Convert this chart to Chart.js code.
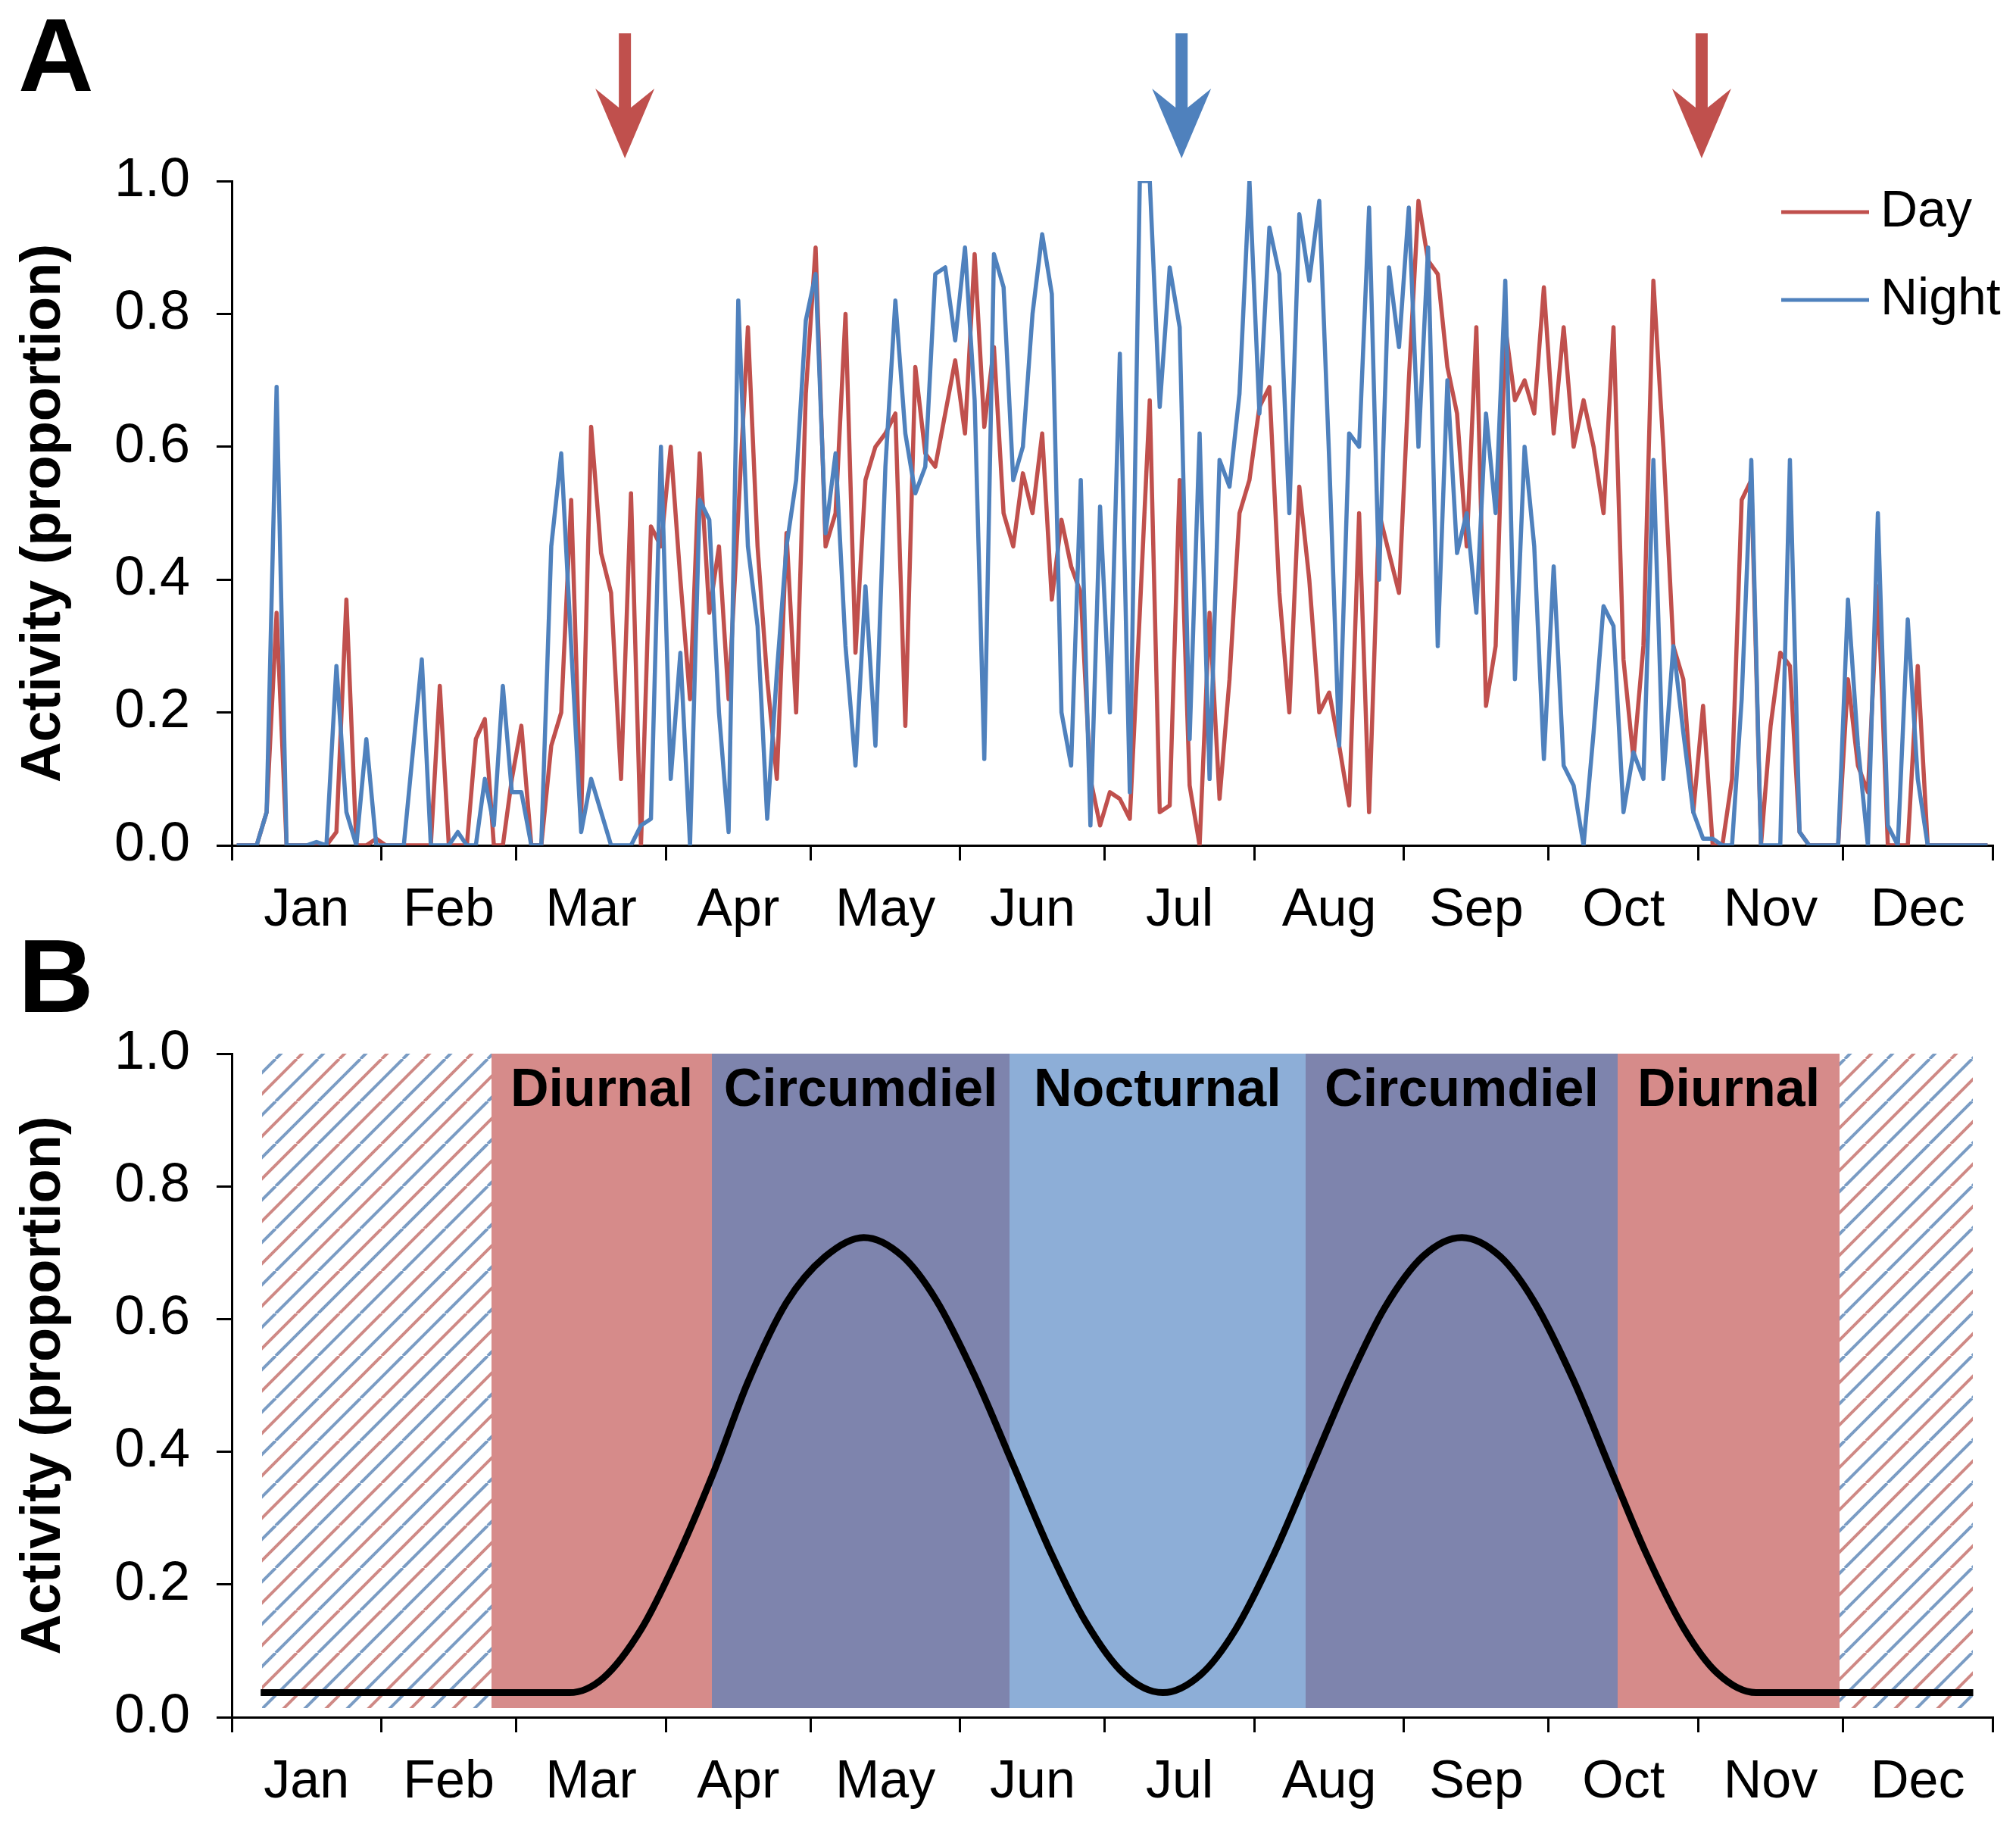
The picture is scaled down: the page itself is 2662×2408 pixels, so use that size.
<!DOCTYPE html>
<html>
<head>
<meta charset="utf-8">
<script src="https://cdn.jsdelivr.net/npm/chart.js"></script>
<style>
  html, body { margin: 0; padding: 0; background: #fff; }
  #page { position: relative; width: 2662px; height: 2408px; overflow: hidden; background: #fff; }
  #wrapA { position: absolute; left: 0; top: 0; width: 2662px; height: 1290px; }
  #wrapB { position: absolute; left: 0; top: 1230px; width: 2662px; height: 1178px; }
  .panel { position: absolute; left: 24px; font: bold 138px 'Liberation Sans', Arial, sans-serif; line-height: 1; color: #000; }
</style>
</head>
<body>
<div id="page">
  <div id="wrapA"><canvas id="chartA"></canvas></div>
  <div id="wrapB"><canvas id="chartB"></canvas></div>
  <div class="panel" style="top:3px">A</div>
  <div class="panel" style="top:1219px">B</div>
</div>
<script>
// axes
var monthNames = ['Jan', 'Feb', 'Mar', 'Apr', 'May', 'Jun', 'Jul', 'Aug', 'Sep', 'Oct', 'Nov', 'Dec'];
var monthStarts = [0, 31, 59, 90, 120, 151, 181, 212, 243, 273, 304, 334, 365];
var yTickValues = [0, 0.2, 0.4, 0.6, 0.8, 1.0];

// panel A: activity, 15 readings per month
var dayActivity = [
  /*Jan*/ 0, 0, 0, 0.05, 0.35, 0, 0, 0, 0, 0, 0.02, 0.37, 0, 0, 0.01,
  /*Feb*/ 0, 0, 0, 0, 0, 0, 0.24, 0, 0, 0, 0.16, 0.19, 0, 0, 0.1,
  /*Mar*/ 0.18, 0, 0, 0.15, 0.2, 0.52, 0.04, 0.63, 0.44, 0.38, 0.1, 0.53, 0, 0.48, 0.45,
  /*Apr*/ 0.6, 0.4, 0.22, 0.59, 0.35, 0.45, 0.22, 0.5, 0.78, 0.45, 0.25, 0.1, 0.47, 0.2, 0.68,
  /*May*/ 0.9, 0.45, 0.5, 0.8, 0.29, 0.55, 0.6, 0.62, 0.65, 0.18, 0.72, 0.59, 0.57, 0.65, 0.73,
  /*Jun*/ 0.62, 0.89, 0.63, 0.75, 0.5, 0.45, 0.56, 0.5, 0.62, 0.37, 0.49, 0.42, 0.38, 0.1, 0.03,
  /*Jul*/ 0.08, 0.07, 0.04, 0.35, 0.67, 0.05, 0.06, 0.55, 0.09, 0, 0.35, 0.07, 0.25, 0.5, 0.55,
  /*Aug*/ 0.66, 0.69, 0.38, 0.2, 0.54, 0.4, 0.2, 0.23, 0.15, 0.06, 0.5, 0.05, 0.5, 0.44, 0.38,
  /*Sep*/ 0.7, 0.97, 0.88, 0.86, 0.72, 0.65, 0.45, 0.78, 0.21, 0.3, 0.78, 0.67, 0.7, 0.65, 0.84,
  /*Oct*/ 0.62, 0.78, 0.6, 0.67, 0.6, 0.5, 0.78, 0.28, 0.13, 0.3, 0.85, 0.6, 0.3, 0.25, 0.05,
  /*Nov*/ 0.21, 0, 0, 0.1, 0.52, 0.55, 0, 0.18, 0.29, 0.27, 0.02, 0, 0, 0, 0,
  /*Dec*/ 0.25, 0.12, 0.08, 0.39, 0, 0, 0, 0.27, 0, 0, 0, 0, 0, 0, 0
];
var nightActivity = [
  /*Jan*/ 0, 0, 0, 0.05, 0.69, 0, 0, 0, 0.005, 0, 0.27, 0.05, 0, 0.16, 0,
  /*Feb*/ 0, 0, 0, 0.14, 0.28, 0, 0, 0, 0.02, 0, 0, 0.1, 0.03, 0.24, 0.08,
  /*Mar*/ 0.08, 0, 0, 0.45, 0.59, 0.3, 0.02, 0.1, 0.05, 0, 0, 0, 0.03, 0.04, 0.6,
  /*Apr*/ 0.1, 0.29, 0, 0.52, 0.49, 0.2, 0.02, 0.82, 0.45, 0.33, 0.04, 0.26, 0.45, 0.55, 0.79,
  /*May*/ 0.86, 0.47, 0.59, 0.3, 0.12, 0.39, 0.15, 0.57, 0.82, 0.62, 0.53, 0.57, 0.86, 0.87, 0.76,
  /*Jun*/ 0.9, 0.67, 0.13, 0.89, 0.84, 0.55, 0.6, 0.8, 0.92, 0.83, 0.2, 0.12, 0.55, 0.03, 0.51,
  /*Jul*/ 0.2, 0.74, 0.08, 1.0, 1.0, 0.66, 0.87, 0.78, 0.16, 0.62, 0.1, 0.58, 0.54, 0.68, 1.0,
  /*Aug*/ 0.65, 0.93, 0.86, 0.5, 0.95, 0.85, 0.97, 0.58, 0.15, 0.62, 0.6, 0.96, 0.4, 0.87, 0.75,
  /*Sep*/ 0.96, 0.6, 0.9, 0.3, 0.7, 0.44, 0.5, 0.35, 0.65, 0.5, 0.85, 0.25, 0.6, 0.45, 0.13,
  /*Oct*/ 0.42, 0.12, 0.09, 0, 0.17, 0.36, 0.33, 0.05, 0.14, 0.1, 0.58, 0.1, 0.3, 0.17, 0.05,
  /*Nov*/ 0.01, 0.01, 0, 0, 0.22, 0.58, 0, 0, 0, 0.58, 0.02, 0, 0, 0, 0,
  /*Dec*/ 0.37, 0.15, 0, 0.5, 0.03, 0, 0.34, 0.1, 0, 0, 0, 0, 0, 0, 0
];
var arrowDays = [81.5, 196.9, 304.7];
var arrowKinds = ['day', 'night', 'day'];

// panel B: model curve and activity periods
var curveDays = [6, 30, 55, 70, 77, 85, 92, 100, 107, 115, 123, 131, 139, 146, 154, 162, 170, 177, 185, 193,
  201, 208, 216, 224, 232, 239, 247, 255, 263, 270, 278, 286, 293, 301, 308, 316, 330, 345, 361];
var curveVals = [0.037, 0.037, 0.037, 0.037, 0.059, 0.134, 0.235, 0.371, 0.505, 0.625, 0.694, 0.723, 0.695, 0.629,
  0.515, 0.380, 0.245, 0.144, 0.065, 0.037, 0.065, 0.131, 0.245, 0.380, 0.515, 0.617, 0.695, 0.723, 0.694,
  0.626, 0.510, 0.371, 0.250, 0.134, 0.066, 0.037, 0.037, 0.037, 0.037];
var bandStart = [6.3, 53.8, 99.6, 161.2, 222.6, 287.3, 333.3];
var bandEnd = [53.8, 99.6, 161.2, 222.6, 287.3, 333.3, 360.9];
var bandKind = ['hatch', 'diurnal', 'circ', 'noct', 'circ', 'diurnal', 'hatch'];
var bandNames = ['', 'Diurnal', 'Circumdiel', 'Nocturnal', 'Circumdiel', 'Diurnal', ''];
var bandTop = 1.0, bandBottom = 0.014, bandLabelY = 0.943;

var RED = '#C0504D', BLUE = '#4F81BD';
var bandColors = { diurnal: '#D68B8A', circ: '#7E84AD', noct: '#8DAED7' };
var FONT = "'Liberation Sans', Arial, sans-serif";

Chart.defaults.font.family = FONT;
Chart.defaults.color = '#000';

var monthMids = monthNames.map(function (m, i) { return (monthStarts[i] + monthStarts[i + 1]) / 2; });
var xTickValues = monthStarts.concat(monthMids).sort(function (a, b) { return a - b; });

function monthPoints(vals) {
  return vals.map(function (v, i) {
    var m = Math.floor(i / 15), k = i % 15;
    var len = monthStarts[m + 1] - monthStarts[m];
    return { x: monthStarts[m] + (k + 0.5) * len / 15, y: v };
  });
}

function makeScales(xHeight) {
  return {
    x: {
      type: 'linear', min: 0, max: 365,
      afterBuildTicks: function (s) { s.ticks = xTickValues.map(function (v) { return { value: v }; }); },
      afterFit: function (s) { s.height = xHeight; },
      ticks: {
        autoSkip: false, maxRotation: 0, padding: 25,
        font: { size: 70 }, color: '#000',
        callback: function (v) { var i = monthMids.indexOf(v); return i >= 0 ? monthNames[i] : ''; }
      },
      grid: {
        drawOnChartArea: false, drawTicks: true, tickLength: 20, lineWidth: 3, tickWidth: 3,
        tickColor: function (c) { return (c.tick && monthStarts.indexOf(c.tick.value) >= 0) ? '#000' : 'rgba(0,0,0,0)'; }
      },
      border: { display: true, color: '#000', width: 3 }
    },
    y: {
      min: 0, max: 1,
      afterBuildTicks: function (s) { s.ticks = yTickValues.map(function (v) { return { value: v }; }); },
      afterFit: function (s) { s.width = 306; },
      ticks: { padding: 35, font: { size: 72 }, color: '#000', callback: function (v) { return v.toFixed(1); } },
      grid: { drawOnChartArea: false, drawTicks: true, tickLength: 20, lineWidth: 3, tickWidth: 3, tickColor: '#000' },
      border: { display: true, color: '#000', width: 3 },
      title: { display: true, text: 'Activity (proportion)', color: '#000', font: { size: 74, weight: 'bold' }, padding: { top: 14, bottom: 0 } }
    }
  };
}

// arrows and legend for panel A
var overlayA = {
  id: 'overlayA',
  afterDraw: function (chart) {
    var ctx = chart.ctx, xs = chart.scales.x;
    ctx.save();
    arrowDays.forEach(function (d, i) {
      var cx = xs.getPixelForValue(d);
      ctx.fillStyle = arrowKinds[i] === 'day' ? RED : BLUE;
      ctx.beginPath();
      ctx.moveTo(cx - 8, 44); ctx.lineTo(cx + 8, 44); ctx.lineTo(cx + 8, 142);
      ctx.lineTo(cx + 39, 117); ctx.lineTo(cx, 209); ctx.lineTo(cx - 39, 117);
      ctx.lineTo(cx - 8, 142); ctx.closePath(); ctx.fill();
    });
    var items = [['Day', RED, 280], ['Night', BLUE, 396]];
    ctx.lineWidth = 5;
    ctx.font = '68px ' + FONT;
    ctx.textBaseline = 'middle';
    ctx.textAlign = 'left';
    items.forEach(function (it) {
      ctx.strokeStyle = it[1];
      ctx.beginPath(); ctx.moveTo(2352, it[2]); ctx.lineTo(2468, it[2]); ctx.stroke();
      ctx.fillStyle = '#000';
      ctx.fillText(it[0], 2483, it[2]);
    });
    ctx.restore();
  }
};

new Chart(document.getElementById('chartA'), {
  type: 'line',
  data: {
    datasets: [{
      label: 'Day', data: monthPoints(dayActivity), borderColor: RED, borderWidth: 5.5,
      pointRadius: 0, tension: 0, fill: false, borderJoinStyle: 'round', order: 1
    }, {
      label: 'Night', data: monthPoints(nightActivity), borderColor: BLUE, borderWidth: 5.5,
      pointRadius: 0, tension: 0, fill: false, borderJoinStyle: 'round', order: 0
    }]
  },
  options: {
    responsive: true, maintainAspectRatio: false, animation: false, devicePixelRatio: 1,
    layout: { padding: { top: 239, right: 31, bottom: 0, left: 0 } },
    plugins: { legend: { display: false }, tooltip: { enabled: false } },
    scales: makeScales(174)
  },
  plugins: [overlayA]
});

// hatch pattern for the unassigned periods
function makeHatch(ctx) {
  var c = document.createElement('canvas');
  c.width = 56; c.height = 56;
  var g = c.getContext('2d');
  g.lineWidth = 4;
  [[0, '#CF8985'], [28, '#7A9CC4']].forEach(function (p) {
    g.strokeStyle = p[1];
    g.beginPath();
    [-56, 0, 56].forEach(function (o) { g.moveTo(p[0] + o, 56); g.lineTo(p[0] + o + 56, 0); });
    g.stroke();
  });
  return ctx.createPattern(c, 'repeat');
}

var bandsB = {
  id: 'bandsB',
  beforeDatasetsDraw: function (chart) {
    var ctx = chart.ctx, xs = chart.scales.x, ys = chart.scales.y;
    var hatch = makeHatch(ctx);
    var yT = Math.round(ys.getPixelForValue(bandTop)), yB = Math.round(ys.getPixelForValue(bandBottom));
    ctx.save();
    bandStart.forEach(function (s, i) {
      var x0 = Math.round(xs.getPixelForValue(s)), x1 = Math.round(xs.getPixelForValue(bandEnd[i]));
      ctx.fillStyle = bandKind[i] === 'hatch' ? hatch : bandColors[bandKind[i]];
      ctx.fillRect(x0, yT, x1 - x0, yB - yT);
    });
    ctx.fillStyle = '#000';
    ctx.font = 'bold 70px ' + FONT;
    ctx.textAlign = 'center';
    ctx.textBaseline = 'middle';
    bandNames.forEach(function (n, i) {
      if (!n) return;
      ctx.fillText(n, xs.getPixelForValue((bandStart[i] + bandEnd[i]) / 2), ys.getPixelForValue(bandLabelY));
    });
    ctx.restore();
  }
};

new Chart(document.getElementById('chartB'), {
  type: 'line',
  data: {
    datasets: [{
      label: 'Model', data: curveDays.map(function (d, i) { return { x: d, y: curveVals[i] }; }),
      borderColor: '#000', borderWidth: 9, pointRadius: 0, fill: false,
      cubicInterpolationMode: 'monotone'
    }]
  },
  options: {
    responsive: true, maintainAspectRatio: false, animation: false, devicePixelRatio: 1,
    layout: { padding: { top: 161, right: 31, bottom: 0, left: 0 } },
    plugins: { legend: { display: false }, tooltip: { enabled: false } },
    scales: makeScales(141)
  },
  plugins: [bandsB]
});
</script>
</body>
</html>
